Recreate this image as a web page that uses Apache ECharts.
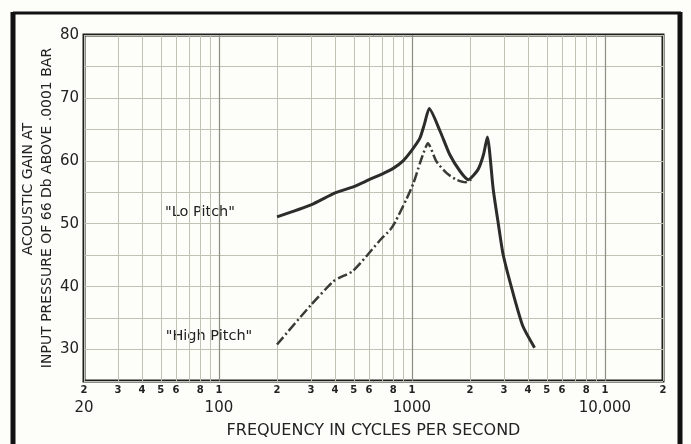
<!DOCTYPE html>
<html><head><meta charset="utf-8">
<script src="https://cdn.jsdelivr.net/npm/echarts@6/dist/echarts.min.js"></script>
<style>html,body{margin:0;padding:0;background:#fdfdf9;}#c{width:691px;height:444px;}</style>
</head><body><div id="c"></div>
<script>
// Data (frequency in Hz, gain in dB)
const loFreq = [200, 300, 400, 500, 600, 700, 800, 900, 1000, 1100, 1160, 1230, 1400, 1570, 1780, 1960, 2200, 2350, 2460, 2640, 2800, 2970, 3340, 3760, 4320];
const loGain = [51.1, 53.0, 54.9, 55.9, 57.0, 57.9, 58.8, 60.0, 61.7, 63.6, 65.8, 68.3, 64.7, 61.0, 58.3, 57.0, 58.6, 61.0, 63.8, 55.4, 50.1, 45.1, 39.0, 33.7, 30.3];
const hiFreq = [200, 300, 390, 420, 490, 580, 680, 770, 820, 940, 1020, 1100, 1150, 1210, 1340, 1520, 1700, 1900, 2030];
const hiGain = [30.8, 37.1, 40.8, 41.4, 42.4, 44.8, 47.3, 49.0, 50.3, 54.0, 56.5, 59.6, 61.3, 62.8, 59.9, 58.0, 57.0, 56.6, 57.0];
const gridFreqs = [20,30,40,50,60,70,80,90,100,200,300,400,500,600,700,800,900,1000,2000,3000,4000,5000,6000,7000,8000,9000,10000,20000];
const digitLabelFreqs = [20,30,40,50,60,80,100,200,300,400,500,600,800,1000,2000,3000,4000,5000,6000,8000,10000,20000];
const decadeFreqs = [100, 1000, 10000];
const decadeLabelFreqs = [20, 100, 1000, 10000];
const yTickLabels = [30, 40, 50, 60, 70, 80];

const pair = (xs, ys) => xs.map((x, i) => [x, ys[i]]);
const chart = echarts.init(document.getElementById('c'), null, {renderer: 'canvas'});
const txt = '#222';
chart.setOption({
  backgroundColor: '#fdfdf9',
  animation: false,
  grid: {left: 84, top: 35, right: 28, bottom: 63, show: true, borderColor: '#1e1e1e', borderWidth: 3, backgroundColor: 'transparent', containLabel: false, outerBoundsMode: 'none'},
  xAxis: [{
    type: 'log', logBase: 10, min: 20, max: 20000, position: 'bottom',
    axisLine: {show: false},
    axisTick: {show: false, customValues: gridFreqs},
    axisLabel: {customValues: digitLabelFreqs, margin: 4, fontSize: 10, fontWeight: 'bold', color: txt, fontFamily: 'DejaVu Sans',
      formatter: v => String(Math.round(v)).charAt(0)},
    splitLine: {show: true, lineStyle: {color: '#c2c2b4', width: 1}}
  }, {
    type: 'log', logBase: 10, min: 20, max: 20000, position: 'bottom',
    axisLine: {show: false},
    axisTick: {show: false, customValues: decadeFreqs},
    axisLabel: {customValues: decadeLabelFreqs, margin: 20, fontSize: 15, color: txt, fontFamily: 'DejaVu Sans',
      formatter: v => { const r = Math.round(v); return r === 10000 ? '10,000' : String(r); }},
    splitLine: {show: true, lineStyle: {color: '#8e8e84', width: 1.2}},
    name: 'FREQUENCY IN CYCLES PER SECOND', nameLocation: 'middle', nameGap: 42, nameMoveOverlap: false,
    nameTextStyle: {fontSize: 16, color: txt, fontFamily: 'DejaVu Sans'}
  }],
  yAxis: {
    type: 'value', min: 25, max: 80, interval: 5,
    axisLine: {show: false}, axisTick: {show: false},
    axisLabel: {margin: 5, fontSize: 15, color: txt, fontFamily: 'DejaVu Sans',
      formatter: v => (yTickLabels.indexOf(v) >= 0 ? String(v) : '')},
    splitLine: {show: true, lineStyle: {color: '#c2c2b4', width: 1}},
    name: '{a|ACOUSTIC GAIN AT}\n{b|INPUT PRESSURE OF 66 Db ABOVE .0001 BAR}',
    nameLocation: 'middle', nameRotate: 90, nameGap: 27, nameMoveOverlap: false,
    nameTextStyle: {color: txt, fontFamily: 'DejaVu Sans', fontSize: 14, lineHeight: 19,
      rich: {a: {fontSize: 14, lineHeight: 19, color: txt, fontFamily: 'DejaVu Sans', padding: [0, 0, 0, 38]}, b: {fontSize: 14, lineHeight: 19, color: txt, fontFamily: 'DejaVu Sans'}}}
  },
  series: [{
    name: 'Lo Pitch', type: 'line', data: pair(loFreq, loGain), showSymbol: false, smooth: 0.2,
    lineStyle: {color: '#2c2c2a', width: 3}
  }, {
    name: 'High Pitch', type: 'line', data: pair(hiFreq, hiGain), showSymbol: false, smooth: 0.2,
    lineStyle: {color: '#3a3a36', width: 2.5, type: [10, 3, 2, 3]}
  }],
  graphic: [
    {type: 'text', x: 200, y: 212, style: {text: '"Lo Pitch"', font: '14.5px "DejaVu Sans"', fill: txt, align: 'center', verticalAlign: 'middle'}},
    {type: 'text', x: 209, y: 336, style: {text: '"High Pitch"', font: '14.5px "DejaVu Sans"', fill: txt, align: 'center', verticalAlign: 'middle'}},
    {type: 'line', shape: {x1: 13, y1: 13, x2: 681, y2: 13}, style: {stroke: '#111', lineWidth: 3}},
    {type: 'line', shape: {x1: 13, y1: 12, x2: 13, y2: 444}, style: {stroke: '#111', lineWidth: 5}},
    {type: 'line', shape: {x1: 680, y1: 12, x2: 680, y2: 444}, style: {stroke: '#111', lineWidth: 5}}
  ]
});
</script></body></html>
